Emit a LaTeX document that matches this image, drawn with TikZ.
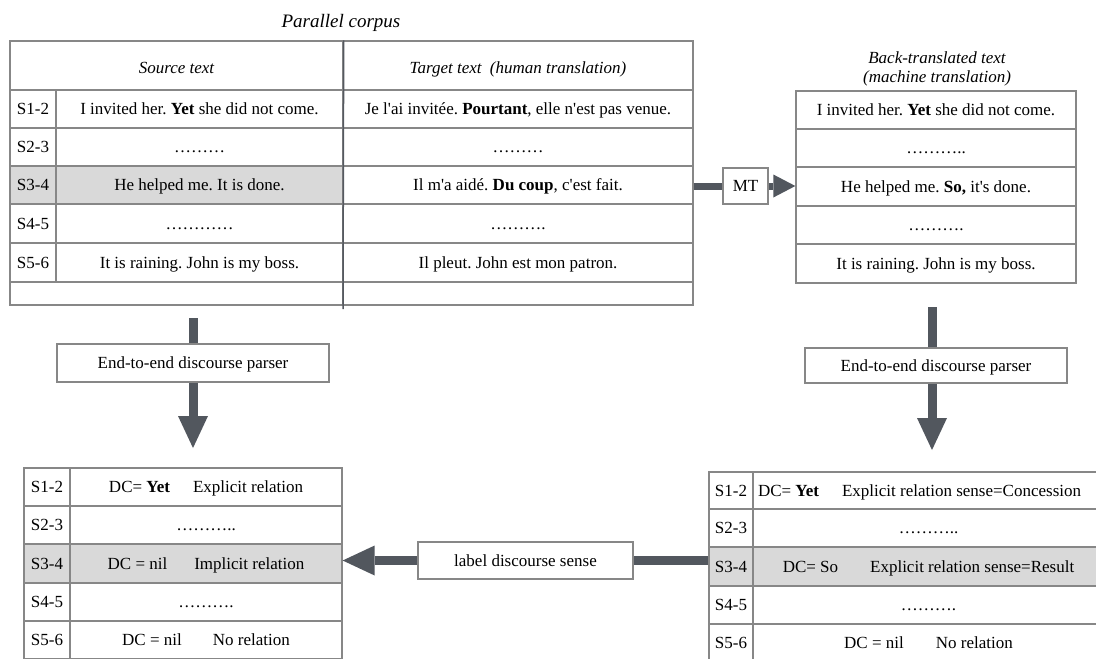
\documentclass[tikz,border=0pt]{standalone}
\usepackage{fontspec}
\setmainfont{Liberation Serif}
\usetikzlibrary{arrows.meta}
\definecolor{linegray}{RGB}{135,135,135}
\definecolor{darkline}{RGB}{85,89,96}
\definecolor{arrowc}{RGB}{82,87,94}
\definecolor{hl}{RGB}{217,217,217}
\newcommand\cellfont{\fontsize{17}{20}\selectfont}
\newcommand\ap{\XeTeXglyph\XeTeXglyphindex "quotesingle"\relax}
\frenchspacing
\begin{document}
\begin{tikzpicture}[x=1pt,y=-1pt,
  cell/.style={draw=linegray, line width=1.3pt, inner sep=0pt, text height=12.5pt, text depth=1.5pt, font=\cellfont},
  head/.style={cell, text height=15pt, text depth=0pt, font=\cellfont\itshape},
  hlcell/.style={cell, fill=hl},
  boxnode/.style={draw=linegray, line width=1.5pt, fill=white, inner sep=0pt, text height=12.5pt, text depth=1.5pt, font=\cellfont},
  bigarrow/.style={draw=arrowc, line width=9pt, -{Triangle[width=30pt,length=32pt,line width=0pt]}},
  bigshaft/.style={draw=arrowc, line width=9pt},
  mtarrow/.style={draw=arrowc, line width=7pt, -{Triangle[width=23pt,length=22pt,line width=0pt]}},
  mtshaft/.style={draw=arrowc, line width=7pt},
  ttl/.style={font=\cellfont\itshape, inner sep=0pt, anchor=base}
]
\clip (0,0) rectangle (1096,659);
\fill[white] (0,0) rectangle (1096,659);

% ---------- Parallel corpus ----------
\node[ttl, font=\fontsize{19}{22}\selectfont\itshape] (title) at (341,27) {Parallel corpus};
\node[head, minimum width=333, minimum height=49] (srcH) at (176.5,65.5) {Source text};
\node[head, minimum width=350, minimum height=49] (tgtH) at (518,65.5) {Target text\hspace{4pt} (human translation)};

\node[cell, minimum width=46, minimum height=38] (s1) at (33,109) {S1-2};
\node[cell, minimum width=287, minimum height=38] (src1) at (199.5,109) {I invited her. \textbf{Yet} she did not come.};
\node[cell, minimum width=350, minimum height=38] (tgt1) at (518,109) {Je l\ap ai invitée. \textbf{Pourtant}, elle n\ap est pas venue.};

\node[cell, minimum width=46, minimum height=38] (s2) at (33,147) {S2-3};
\node[cell, minimum width=287, minimum height=38] (src2) at (199.5,147) {………};
\node[cell, minimum width=350, minimum height=38] (tgt2) at (518,147) {………};

\node[hlcell, minimum width=46, minimum height=38] (s3) at (33,185) {S3-4};
\node[hlcell, minimum width=287, minimum height=38] (src3) at (199.5,185) {He helped me. It is done.};
\node[cell, minimum width=350, minimum height=38] (tgt3) at (518,185) {Il m\ap a aidé. \textbf{Du coup}, c\ap est fait.};

\node[cell, minimum width=46, minimum height=39] (s4) at (33,223.5) {S4-5};
\node[cell, minimum width=287, minimum height=39] (src4) at (199.5,223.5) {…………};
\node[cell, minimum width=350, minimum height=39] (tgt4) at (518,223.5) {……….};

\node[cell, minimum width=46, minimum height=39] (s5) at (33,262.5) {S5-6};
\node[cell, minimum width=287, minimum height=39] (src5) at (199.5,262.5) {It is raining. John is my boss.};
\node[cell, minimum width=350, minimum height=39] (tgt5) at (518,262.5) {Il pleut. John est mon patron.};

\node[cell, minimum width=333, minimum height=23] (srcE) at (176.5,293.5) {};
\node[cell, minimum width=350, minimum height=23] (tgtE) at (518,293.5) {};
\draw[darkline, line width=1.5pt] (srcH.north east) -- (343,309);

% ---------- Back-translated text ----------
\node[ttl] (bttl1) at (937,63) {Back-translated text};
\node[ttl] (bttl2) at (937,82) {(machine translation)};
\node[cell, minimum width=280, minimum height=38] (bk1) at (936,110) {I invited her. \textbf{Yet} she did not come.};
\node[cell, minimum width=280, minimum height=38] (bk2) at (936,148) {………..};
\node[cell, minimum width=280, minimum height=39] (bk3) at (936,186.5) {He helped me. \textbf{So,} it\ap s done.};
\node[cell, minimum width=280, minimum height=38] (bk4) at (936,225) {……….};
\node[cell, minimum width=280, minimum height=39] (bk5) at (936,263.5) {It is raining. John is my boss.};

% ---------- MT ----------
\node[boxnode, minimum width=45, minimum height=36] (mt) at (745.5,186) {MT};
\draw[mtshaft] (tgt3.east |- mt.west) -- (mt.west);
\draw[mtarrow] (mt.east) -- (bk3.west |- mt.east);

% ---------- Parsers ----------
\node[boxnode, minimum width=272, minimum height=38] (pL) at (193,363) {End-to-end discourse parser};
\node[boxnode, minimum width=262, minimum height=35] (pR) at (936,365.5) {End-to-end discourse parser};
\coordinate (aL0) at (193,318);
\coordinate (tipL) at (193,448);
\coordinate (aR0) at (932,307);
\coordinate (tipR) at (932,450);
\draw[bigshaft] (aL0) -- (pL.north);
\draw[bigarrow] (pL.south) -- (tipL);
\draw[bigshaft] (aR0) -- (aR0 |- pR.north);
\draw[bigarrow] (aR0 |- pR.south) -- (tipR);

% ---------- Bottom-left table ----------
\node[cell, minimum width=46, minimum height=38] (ls1) at (47,487) {S1-2};
\node[cell, minimum width=272, minimum height=38] (lt1) at (206,487) {DC= \textbf{Yet}\hspace{23pt}Explicit relation};
\node[cell, minimum width=46, minimum height=38] (ls2) at (47,525) {S2-3};
\node[cell, minimum width=272, minimum height=38] (lt2) at (206,525) {………..};
\node[hlcell, minimum width=46, minimum height=39] (ls3) at (47,563.5) {S3-4};
\node[hlcell, minimum width=272, minimum height=39] (lt3) at (206,563.5) {DC = nil\hspace{27pt}Implicit relation};
\node[cell, minimum width=46, minimum height=38] (ls4) at (47,602) {S4-5};
\node[cell, minimum width=272, minimum height=38] (lt4) at (206,602) {……….};
\node[cell, minimum width=46, minimum height=38] (ls5) at (47,640) {S5-6};
\node[cell, minimum width=272, minimum height=38] (lt5) at (206,640) {DC = nil\hspace{31pt}No relation};

% ---------- Bottom-right table ----------
\node[cell, minimum width=44, minimum height=37] (rs1) at (731,490.5) {S1-2};
\node[cell, minimum width=351, minimum height=37] (rt1) at (928.5,490.5) {\makebox[351pt][l]{\hspace{5pt}DC= \textbf{Yet}\hspace{23pt}Explicit relation sense=Concession}};
\node[cell, minimum width=44, minimum height=38] (rs2) at (731,528) {S2-3};
\node[cell, minimum width=351, minimum height=38] (rt2) at (928.5,528) {………..};
\node[hlcell, minimum width=44, minimum height=39] (rs3) at (731,566.5) {S3-4};
\node[hlcell, minimum width=351, minimum height=39] (rt3) at (928.5,566.5) {DC= So\hspace{32pt}Explicit relation sense=Result};
\node[cell, minimum width=44, minimum height=38] (rs4) at (731,605) {S4-5};
\node[cell, minimum width=351, minimum height=38] (rt4) at (928.5,605) {……….};
\node[cell, minimum width=44, minimum height=38] (rs5) at (731,643) {S5-6};
\node[cell, minimum width=351, minimum height=38] (rt5) at (928.5,643) {DC = nil\hspace{32pt}No relation};

% ---------- label discourse sense ----------
\node[boxnode, minimum width=215, minimum height=37] (lab) at (525.5,560.5) {label discourse sense};
\draw[bigshaft] (lab.east -| rs3.west) -- (lab.east);
\draw[bigarrow] (lab.west) -- (lab.west -| lt3.east);
\end{tikzpicture}
\end{document}
